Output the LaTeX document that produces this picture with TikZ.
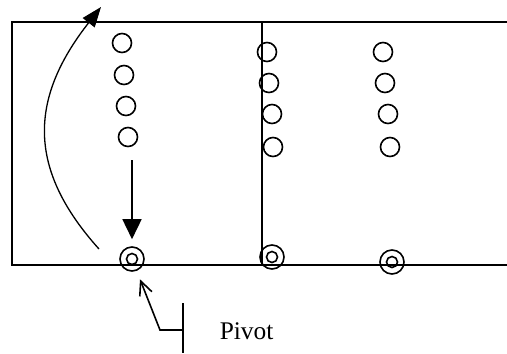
\documentclass[tikz,border=0pt]{standalone}
\usepackage{fontspec}
\setmainfont{Liberation Serif}
\usetikzlibrary{arrows.meta}

\begin{document}
\begin{tikzpicture}[x=1bp,y=-1bp,line width=1.6bp,
    pin/.style={draw,circle,minimum size=19bp,inner sep=0pt},
    pivot/.style={draw,circle,minimum size=24bp,inner sep=0pt},
    fall/.style={-{Triangle[length=20bp,width=19bp]}},
    swing/.style={-{Triangle[length=20bp,width=15bp]}},
    callout/.style={-{Straight Barb[length=14bp,width=13bp]}}]
    \useasboundingbox (0,0) rectangle (507,353);
    % court outline
    \draw[line width=1.9bp] (507,22) -- (12,22) -- (12,265) -- (507,265);
    \draw (262,22) -- (262,265);
    % three columns of players
    \foreach \x/\y [count=\i] in {122/43,124/75,126/106,128/137}
      \node[pin] (a\i) at (\x,\y) {};
    \foreach \x/\y [count=\i] in {267/52,269/83,272/114,273/147}
      \node[pin] (b\i) at (\x,\y) {};
    \foreach \x/\y [count=\i] in {383/52,385/83,388/114,390/147}
      \node[pin] (c\i) at (\x,\y) {};
    % pivots on the base line
    \foreach \x/\y/\n in {132/259/p1,272/257/p2,392/262/p3} {
      \node[pivot] (\n) at (\x,\y) {};
      \draw (\n) circle[radius=5.5bp];
    }
    % moves
    \draw[fall,shorten <=13bp,shorten >=7bp] (p1 |- a4.south) -- (p1.north);
    \coordinate (back) at (99,249);
    \coordinate (front) at (101,7);
    \draw[swing,line width=1.3bp] (back) .. controls (28,170) and (28,100) .. (front);
    % label
    \coordinate (bar top) at (183,303);
    \coordinate (bar end) at (183,353);
    \coordinate (tick) at (183,330);
    \coordinate (elbow) at (160,330);
    \draw (bar top) -- (bar end);
    \draw[callout,shorten >=9bp] (tick) -- (elbow) -- (p1);
    \node[font=\fontsize{25.5}{30}\selectfont,anchor=base west,inner sep=0pt] (name) at (219,339) {Pivot};
  \end{tikzpicture}
\end{document}
